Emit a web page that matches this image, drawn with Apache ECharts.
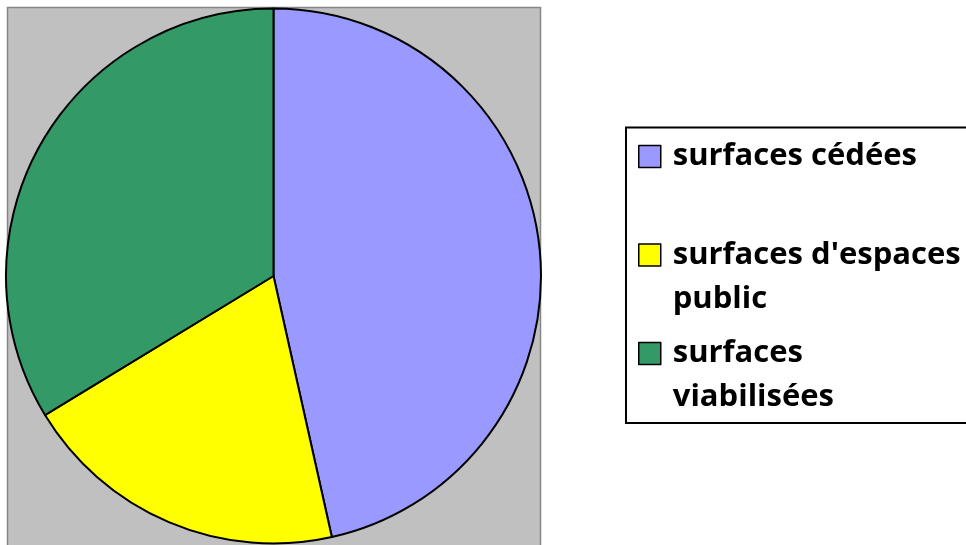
<!DOCTYPE html>
<html>
<head>
<meta charset="utf-8">
<script src="https://cdn.jsdelivr.net/npm/echarts@6/dist/echarts.min.js"></script>
<style>
html,body{margin:0;padding:0;background:#fff;}
#chart{width:966px;height:545px;}
</style>
</head>
<body>
<div id="chart"></div>
<script>
var categories = ["surfaces cédées", "surfaces d'espaces public", "surfaces viabilisées"];
var legendLabels = ["surfaces cédées", "surfaces d'espaces\npublic", "surfaces\nviabilisées"];
var values = [46.5, 19.8, 33.7];
var colors = ["#9999FF", "#FFFF00", "#339966"];

var chart = echarts.init(document.getElementById('chart'), null, {renderer: 'canvas'});
var data = categories.map(function (c, i) {
  return {name: c, value: values[i], itemStyle: {color: colors[i]}};
});
chart.setOption({
  animation: false,
  backgroundColor: '#ffffff',
  graphic: [
    {type: 'rect', z: -10, shape: {x: 7.5, y: 7.5, width: 533, height: 542},
     style: {fill: '#C0C0C0', stroke: '#868686', lineWidth: 1.5}},
    {type: 'rect', z: -10, shape: {x: 626, y: 127.5, width: 400, height: 295.5},
     style: {fill: '#ffffff', stroke: '#000000', lineWidth: 2}}
  ],
  legend: {
    orient: 'vertical',
    left: 638,
    top: 90.5,
    padding: 0,
    itemWidth: 22,
    itemHeight: 22,
    itemGap: -33.5,
    icon: 'rect',
    selectedMode: false,
    itemStyle: {borderColor: '#000000', borderWidth: 1.5},
    formatter: function (name) {
      var i = categories.indexOf(name);
      var lab = legendLabels[i];
      return '\n' + lab + (lab.indexOf('\n') < 0 ? '\n' : '');
    },
    textStyle: {
      fontFamily: '"Open Sans", sans-serif',
      fontWeight: 'bold',
      fontSize: 31,
      lineHeight: 44,
      color: '#000000',
      padding: [0, 0, 0, 7]
    },
    data: categories
  },
  series: [{
    type: 'pie',
    center: [273.5, 276],
    radius: [0, 267.5],
    startAngle: 90,
    clockwise: true,
    silent: true,
    label: {show: false},
    labelLine: {show: false},
    emphasis: {disabled: true},
    itemStyle: {borderColor: '#000000', borderWidth: 2},
    data: data
  }]
});
</script>
</body>
</html>
